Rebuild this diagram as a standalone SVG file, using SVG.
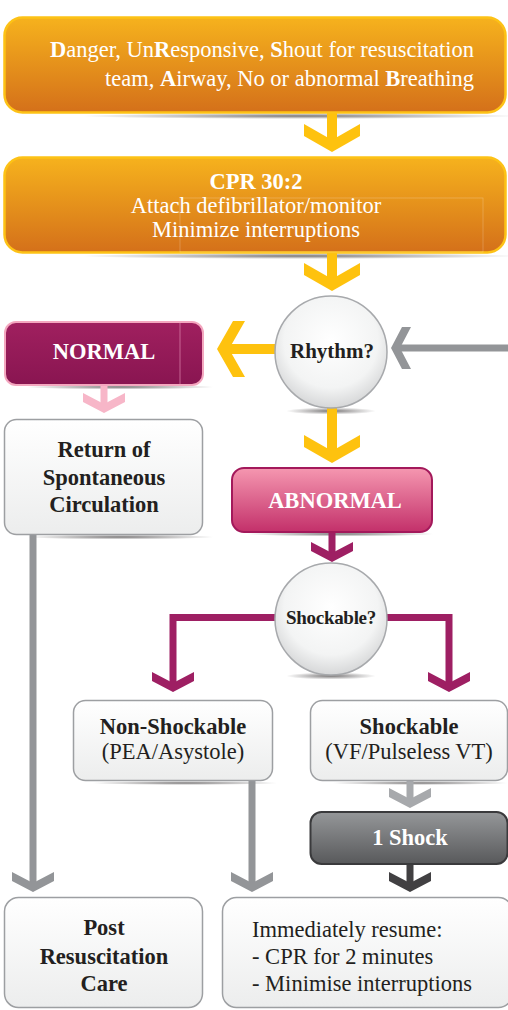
<svg xmlns="http://www.w3.org/2000/svg" width="508" height="1010" viewBox="0 0 508 1010" font-family="'Liberation Serif','Times New Roman',serif">
<defs>
<style>
text{font-family:"Liberation Serif","Times New Roman",serif;font-size:22.5px}
.w{fill:#ffffff}
.d{fill:#231f20}
.b{font-weight:bold}
.c{text-anchor:middle}
.orange{fill:url(#gOrange);stroke:#fdc216;stroke-width:2.5}
.light{fill:url(#gLight);stroke:#9d9fa2;stroke-width:1.5}
.circ{fill:url(#gCirc);stroke:#a7a9ac;stroke-width:1.5}
.shadow{fill:url(#gShadow)}
</style>
<linearGradient id="gOrange" x1="0" y1="0" x2="0" y2="1"><stop offset="0" stop-color="#f6b21d"/><stop offset="1" stop-color="#d4701a"/></linearGradient>
<linearGradient id="gLight" x1="0" y1="0" x2="0" y2="1"><stop offset="0" stop-color="#ffffff"/><stop offset="1" stop-color="#eceded"/></linearGradient>
<linearGradient id="gNormal" x1="0" y1="0" x2="0" y2="1"><stop offset="0" stop-color="#a0205f"/><stop offset="1" stop-color="#891551"/></linearGradient>
<linearGradient id="gAbn" x1="0" y1="0" x2="0" y2="1"><stop offset="0" stop-color="#f597b0"/><stop offset="1" stop-color="#c3306a"/></linearGradient>
<linearGradient id="gShock" x1="0" y1="0" x2="0" y2="1"><stop offset="0" stop-color="#959799"/><stop offset="1" stop-color="#58595b"/></linearGradient>
<radialGradient id="gCirc" cx="0.5" cy="0.4" r="0.6"><stop offset="0" stop-color="#ffffff"/><stop offset="0.7" stop-color="#f3f4f4"/><stop offset="1" stop-color="#d6d7d8"/></radialGradient>
<radialGradient id="gShadow" cx="0.5" cy="0.5" r="0.5"><stop offset="0" stop-color="#231f20" stop-opacity="0.6"/><stop offset="1" stop-color="#231f20" stop-opacity="0"/></radialGradient>
<path id="chevL" d="M-28,-28 L0,-12 L28,-28 L28,-16 L0,0 L-28,-16 Z"/>
<path id="chevS" d="M-21,-20 L0,-9 L21,-20 L21,-11 L0,0 L-21,-11 Z"/>
</defs>
<rect width="508" height="1010" fill="#ffffff"/>

<g id="shadows">
<ellipse class="shadow" cx="300" cy="116" rx="220" ry="3"/>
<ellipse class="shadow" cx="300" cy="256" rx="220" ry="3"/>
<ellipse class="shadow" cx="120" cy="387" rx="95" ry="2.5"/>
<ellipse class="shadow" cx="120" cy="537" rx="95" ry="2.5"/>
<ellipse class="shadow" cx="340" cy="534" rx="95" ry="2.5"/>
<ellipse class="shadow" cx="185" cy="783" rx="95" ry="2"/>
<ellipse class="shadow" cx="420" cy="783" rx="90" ry="2"/>
<ellipse class="shadow" cx="331" cy="411" rx="45" ry="3.5"/>
<ellipse class="shadow" cx="331" cy="676" rx="45" ry="3.5"/>
</g>

<g id="connectors">
<g fill="#fec20e">
<rect x="327" y="112" width="10" height="30"/>
<use href="#chevL" transform="translate(332,152)"/>
<rect x="327" y="252" width="10" height="30"/>
<use href="#chevL" transform="translate(332,291)"/>
<rect x="226" y="344" width="52" height="10"/>
<use href="#chevL" transform="translate(217,349) rotate(90)"/>
<rect x="327" y="406" width="10" height="48"/>
<use href="#chevL" transform="translate(332,463)"/>
</g>
<g fill="#939598">
<rect x="397" y="344.5" width="111" height="7"/>
<use href="#chevS" transform="translate(391,348) rotate(90)"/>
<rect x="29.5" y="534" width="7" height="352"/>
<use href="#chevS" transform="translate(33,892)"/>
<rect x="248.5" y="780" width="7" height="106"/>
<use href="#chevS" transform="translate(252,892)"/>
</g>
<g fill="#a7a9ac">
<rect x="406.5" y="780" width="7" height="22"/>
<use href="#chevS" transform="translate(410,808)"/>
</g>
<g fill="#414042">
<rect x="406.5" y="863" width="7" height="23"/>
<use href="#chevS" transform="translate(410,892)"/>
</g>
<g fill="#f7b6c8">
<rect x="100.5" y="384" width="7" height="22"/>
<use href="#chevS" transform="translate(104,413)"/>
</g>
<g fill="#9e1f63">
<rect x="328.5" y="531" width="7" height="25"/>
<use href="#chevS" transform="translate(332,562)"/>
<use href="#chevS" transform="translate(173,692)"/>
<use href="#chevS" transform="translate(449,692)"/>
</g>
<path d="M278,617.5 H173 V686 M384,617.5 H449 V686" fill="none" stroke="#9e1f63" stroke-width="7"/>
</g>

<g id="n-danger">
<rect class="orange" x="4.5" y="17.5" width="501" height="95" rx="18"/>
<text class="w" x="474" y="57" text-anchor="end"><tspan class="b">D</tspan>anger, Un<tspan class="b">R</tspan>esponsive, <tspan class="b">S</tspan>hout for resuscitation</text>
<text class="w" x="474" y="86" text-anchor="end">team, <tspan class="b">A</tspan>irway, No or abnormal <tspan class="b">B</tspan>reathing</text>
</g>

<g id="n-cpr">
<rect class="orange" x="4.5" y="157.5" width="501" height="95" rx="18"/>
<rect x="180" y="198" width="303" height="54" fill="none" stroke="#ffffff" stroke-opacity="0.25" stroke-width="0.8"/>
<text class="w b c" x="256" y="189">CPR 30:2</text>
<text class="w c" x="256" y="213">Attach defibrillator/monitor</text>
<text class="w c" x="256" y="237">Minimize interruptions</text>
</g>

<g id="n-rhythm">
<circle class="circ" cx="331" cy="352" r="56"/>
<text class="d b c" x="332" y="358" style="font-size:21px">Rhythm?</text>
</g>

<g id="n-normal">
<rect x="5" y="322" width="198" height="63" rx="11" fill="url(#gNormal)" stroke="#f4a7bf" stroke-width="2"/>
<line x1="180" y1="323" x2="180" y2="384" stroke="#d47aa3" stroke-width="0.8"/>
<text class="w b c" x="104" y="359">NORMAL</text>
</g>

<g id="n-rosc">
<rect class="light" x="4.5" y="419.5" width="198" height="115" rx="12"/>
<text class="d b c" x="104" y="457">Return of</text>
<text class="d b c" x="104" y="485">Spontaneous</text>
<text class="d b c" x="104" y="512">Circulation</text>
</g>

<g id="n-abnormal">
<rect x="232" y="468" width="200" height="64" rx="12" fill="url(#gAbn)" stroke="#a3195b" stroke-width="2"/>
<text class="w b c" x="335" y="508">ABNORMAL</text>
</g>

<g id="n-shockable-q">
<circle class="circ" cx="331" cy="619" r="56"/>
<text class="d b c" x="331" y="624" style="font-size:19px;letter-spacing:-0.3px">Shockable?</text>
</g>

<g id="n-nonshock">
<rect class="light" x="73.5" y="700.5" width="199" height="80" rx="12"/>
<text class="d b c" x="173" y="734">Non-Shockable</text>
<text class="d c" x="173" y="759">(PEA/Asystole)</text>
</g>

<g id="n-shock">
<rect class="light" x="310.5" y="700.5" width="197" height="80" rx="12"/>
<text class="d b c" x="409" y="734">Shockable</text>
<text class="d c" x="409" y="759">(VF/Pulseless VT)</text>
</g>

<g id="n-1shock">
<rect x="310.5" y="812" width="197" height="52" rx="11" fill="url(#gShock)" stroke="#3a3a3c" stroke-width="2"/>
<text class="w b c" x="410" y="845">1 Shock</text>
</g>

<g id="n-post">
<rect class="light" x="4.5" y="897.5" width="198" height="110" rx="14"/>
<text class="d b c" x="104" y="935">Post</text>
<text class="d b c" x="104" y="964">Resuscitation</text>
<text class="d b c" x="104" y="991">Care</text>
</g>

<g id="n-resume">
<rect class="light" x="222.5" y="897.5" width="290" height="110" rx="14"/>
<text class="d" x="252" y="937">Immediately resume:</text>
<text class="d" x="252" y="964">- CPR for 2 minutes</text>
<text class="d" x="252" y="991">- Minimise interruptions</text>
</g>
</svg>
